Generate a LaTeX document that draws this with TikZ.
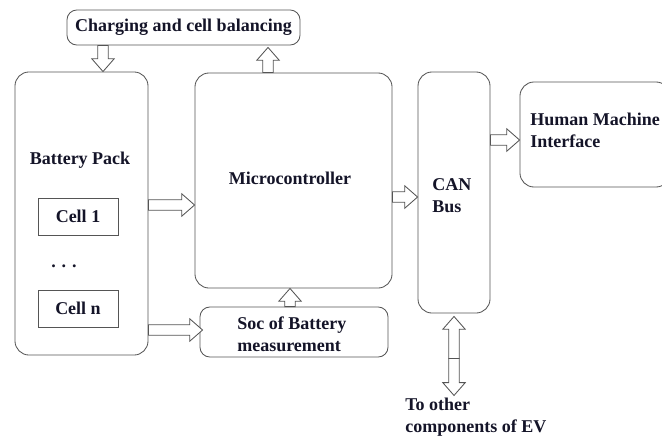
\documentclass[tikz,border=0pt]{standalone}
\usepackage{fontspec}
\setmainfont{Liberation Serif}
\usepackage{tikz}
\usetikzlibrary{positioning, calc}
\definecolor{edgegray}{RGB}{85,85,85}
\definecolor{inkblue}{RGB}{20,20,40}

% open block arrow from #1 (tail) to #2 (tip)
\newcommand{\blockarrow}[2]{%
  \coordinate (bh) at ($(#2)!0.32cm!(#1)$);
  \draw[blockarr] ($(#1)!0.13cm!90:(#2)$) -- ($(bh)!0.13cm!-90:(#1)$) -- ($(bh)!0.28cm!-90:(#1)$)
    -- (#2) -- ($(bh)!0.28cm!90:(#1)$) -- ($(bh)!0.13cm!90:(#1)$) -- ($(#1)!0.13cm!-90:(#2)$) -- cycle;}

\begin{document}
\begin{tikzpicture}[x=0.025cm, y=-0.025cm,
  box/.style={rectangle, rounded corners=10pt, draw=edgegray, line width=0.6pt, fill=white, text=inkblue, font=\bfseries\fontsize{12.8pt}{15.6pt}\selectfont, align=left, inner sep=0pt},
  tapebox/.style={box, rounded corners=7pt},
  cellbox/.style={rectangle, draw=edgegray, line width=0.6pt, text=inkblue, font=\bfseries\fontsize{12.8pt}{15.6pt}\selectfont, minimum width=2cm, minimum height=0.925cm},
  lbl/.style={text=inkblue, font=\bfseries\fontsize{12.8pt}{15.6pt}\selectfont, align=left, inner sep=0pt},
  blockarr/.style={draw=edgegray, line width=0.6pt, fill=white, line join=miter}
]
\useasboundingbox[fill=white] (0,0) rectangle (662,436);

\node[tapebox, minimum width=5.825cm, minimum height=0.875cm] (chg) at (183.5,27.5) {Charging and cell balancing};
\node[box, minimum width=3.325cm, minimum height=7.075cm] (bat) at (81.5,213.5) {};
\node[lbl] (batlbl) at (80,160) {Battery Pack};
\node[cellbox] (cell1) at (78,216.5) {Cell 1};
\node[lbl] (dots) at (64,266) {. . .};
\node[cellbox] (celln) at (78,308.5) {Cell n};
\node[box, minimum width=4.925cm, minimum height=5.375cm] (mc) at (293.5,180.5) {};
\node[lbl] (mclbl) at (290,178) {Microcontroller};
\node[tapebox, minimum width=4.7cm, minimum height=1.25cm] (soc) at (294,332) {};
\node[lbl, anchor=west] (soclbl) at (237,334) {Soc of Battery\\measurement};
\node[box, minimum width=1.8cm, minimum height=6.025cm] (can) at (454,192.5) {};
\node[lbl, anchor=west] (canlbl) at (432,196) {CAN\\Bus};
\node[box, minimum width=3.75cm, minimum height=2.625cm] (hmi) at (595,134.5) {};
\node[lbl, anchor=west] (hmilbl) at (530,130) {Human Machine\\Interface};
\node[lbl, anchor=west] (ev) at (405,417) {To other\\components of EV};

% arrows
\coordinate (a1s) at (chg.south -| 103,0);
\coordinate (a1e) at (bat.north -| a1s);
\blockarrow{a1s}{a1e}
\coordinate (a2s) at (mc.north -| 268,0);
\coordinate (a2e) at ($(chg.south -| a2s)+(0,2)$);
\blockarrow{a2s}{a2e}
\coordinate (a3s) at (bat.east |- 0,205);
\coordinate (a3e) at (mc.west |- a3s);
\blockarrow{a3s}{a3e}
\coordinate (a4s) at (bat.east |- 0,330);
\coordinate (a4e) at ($(soc.west |- a4s)+(3,0)$);
\blockarrow{a4s}{a4e}
\coordinate (a5s) at (soc.north -| 290,0);
\coordinate (a5e) at (mc.south -| a5s);
\blockarrow{a5s}{a5e}
\coordinate (a6s) at (mc.east |- 0,197);
\coordinate (a6e) at (can.west |- a6s);
\blockarrow{a6s}{a6e}
\coordinate (a7s) at (can.east |- 0,140);
\coordinate (a7e) at (hmi.west |- a7s);
\blockarrow{a7s}{a7e}
\coordinate (a8m) at ($(can.south)+(0,45)$);
\coordinate (a8u) at ($(can.south)+(0,3)$);
\coordinate (a8d) at ($(can.south)+(0,82)$);
\blockarrow{a8m}{a8u}
\blockarrow{a8m}{a8d}
\end{tikzpicture}
\end{document}
